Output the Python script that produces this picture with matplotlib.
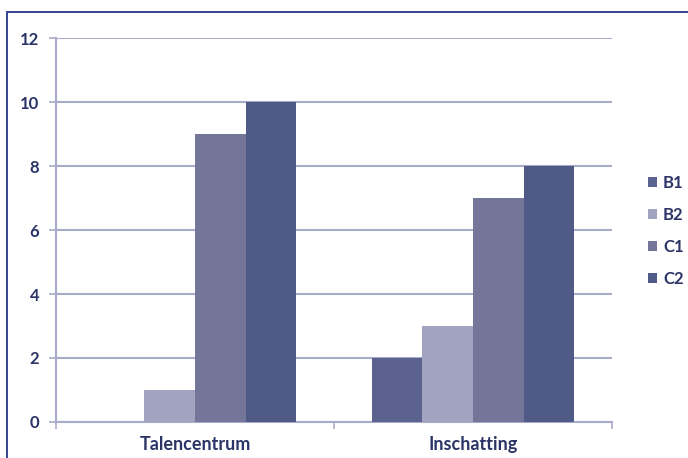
import matplotlib
matplotlib.use("Agg")
import matplotlib.pyplot as plt
from matplotlib.patches import Rectangle
import numpy as np

categories = ["Talencentrum", "Inschatting"]
series_names = ["B1", "B2", "C1", "C2"]
B1 = [0, 2]
B2 = [1, 3]
C1 = [9, 7]
C2 = [10, 8]
yticks = [0, 2, 4, 6, 8, 10, 12]

colors = ["#5b6290", "#a2a3c0", "#747699", "#4f5a87"]
grid_c = "#a9abcb"
text_c = "#2b3466"

plt.rcParams['font.family'] = ['Lato', 'DejaVu Sans']

fig = plt.figure(figsize=(6.88, 4.58), dpi=100)
fig.patch.set_facecolor("white")
ax = fig.add_axes([56/688, 1-422/458, (612-56)/688, (422-38)/458])

# frame border
fig.patches.append(Rectangle((7/688, -0.2), 1.5, 1.2 - 12/458,
                             transform=fig.transFigure, fill=False,
                             edgecolor="#33438f", linewidth=1.4, zorder=0))

x = np.arange(len(categories))
w = 0.182
for j, (name, vals) in enumerate(zip(series_names, [B1, B2, C1, C2])):
    ax.bar(x + (j - 1.5) * w, vals, width=w, color=colors[j], label=name,
           zorder=3, linewidth=0)

ax.set_xlim(-0.5, 1.5)
ax.set_ylim(0, 12)
ax.set_yticks(yticks)
ax.yaxis.grid(True, color=grid_c, linewidth=1.5, zorder=0)
ax.set_axisbelow(True)

for s in ["top", "right"]:
    ax.spines[s].set_visible(False)
for s in ["left", "bottom"]:
    ax.spines[s].set_color(grid_c)
    ax.spines[s].set_linewidth(1.5)

ax.set_xticks(x)
ax.set_xticklabels(categories)
ax.set_xticks([-0.5, 0.5, 1.5], minor=True)
ax.tick_params(axis="x", which="major", length=0, pad=10, labelsize=13,
               labelcolor=text_c)
ax.tick_params(axis="x", which="minor", length=5, color=grid_c, width=1.2)
ax.tick_params(axis="y", length=5, color=grid_c, width=1.2, pad=7,
               labelsize=12, labelcolor=text_c)
for lab in ax.get_xticklabels() + ax.get_yticklabels():
    lab.set_fontweight("bold")

leg = fig.legend(loc="center left", bbox_to_anchor=(648/688, 1-231/458),
                 frameon=False, handlelength=0.55, handleheight=0.55,
                 handletextpad=0.35, labelspacing=0.95, fontsize=12,
                 borderaxespad=0, borderpad=0)
for t in leg.get_texts():
    t.set_color(text_c)
    t.set_fontweight("bold")

fig.savefig("out.png", dpi=100)
